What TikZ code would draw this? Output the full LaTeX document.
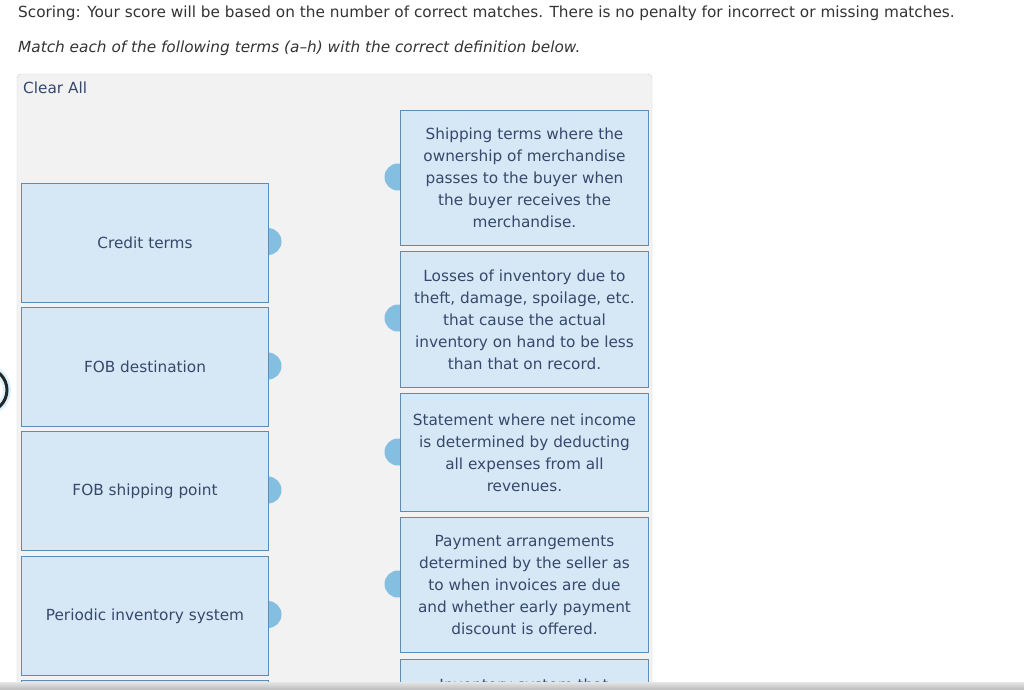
\documentclass[tikz,border=0pt]{standalone}
\usepackage{fontspec}
\setmainfont{DejaVu Sans}
\usepackage{xcolor}
\usetikzlibrary{positioning,calc}
\definecolor{boxfill}{HTML}{D6E8F5}
\definecolor{boxline}{HTML}{5B8DB8}
\definecolor{tabfill}{HTML}{84BEE0}
\definecolor{panelfill}{HTML}{F2F2F2}
\definecolor{panelline}{HTML}{C6CCD6}
\definecolor{ink}{HTML}{34496B}
\definecolor{headink}{HTML}{333333}
\newcommand{\qfont}{\fontsize{15.3}{22}\selectfont}

\begin{document}
\begin{tikzpicture}[x=1pt, y=-1pt,
    term/.style={draw=boxline, fill=boxfill, line width=1pt, anchor=north west,
        minimum width=247pt, inner sep=0pt, text=ink, font=\qfont, align=center},
    defn/.style={term, minimum width=248pt},
    tab/.style={circle, fill=tabfill, minimum size=27pt, inner sep=0pt},
    head/.style={anchor=west, inner sep=0pt, text=headink, font=\qfont}]
    \useasboundingbox (0,0) rectangle (1024,689);
    \clip (0,0) rectangle (1024,689);

    % Heading
    \node[head] (score) at (18,13) {Scoring: Your score will be based on the number of correct matches. There is no penalty for incorrect or missing matches.};
    \node[head, font=\qfont\itshape] (task) at (18,48) {Match each of the following terms (a--h) with the correct definition below.};

    % Panel
    \draw[fill=panelfill, draw=panelline, rounded corners=4pt] (17,74) rectangle (652,720);
    \node[head, text=ink] (clear) at (23,88) {Clear All};

    % Tabs (drawn first, boxes hide half)
    \node[tab] (credittab) at (268,241.5) {};
    \node[tab] (desttab) at (268,366) {};
    \node[tab] (shiptab) at (268,490) {};
    \node[tab] (periodtab) at (268,614.5) {};
    \node[tab] (fobtab) at (398,177) {};
    \node[tab] (shrinktab) at (398,318) {};
    \node[tab] (incometab) at (398,452) {};
    \node[tab] (credtermtab) at (398,584) {};

    % Terms
    \node[term, minimum height=119pt] (credit) at (21,183) {Credit terms};
    \node[term, minimum height=119pt] (dest) at (21,307) {FOB destination};
    \node[term, minimum height=119pt] (ship) at (21,431) {FOB shipping point};
    \node[term, minimum height=119pt] (period) at (21,556) {Periodic inventory system};
    \node[term, minimum height=119pt] (nextterm) at (21,680) {};

    % Definitions
    \node[defn, minimum height=135pt] (fob) at (400,110) {Shipping terms where the\\ownership of merchandise\\passes to the buyer when\\the buyer receives the\\merchandise.};
    \node[defn, minimum height=136pt] (shrink) at (400,251) {Losses of inventory due to\\theft, damage, spoilage, etc.\\that cause the actual\\inventory on hand to be less\\than that on record.};
    \node[defn, minimum height=118pt] (income) at (400,393) {Statement where net income\\is determined by deducting\\all expenses from all\\revenues.};
    \node[defn, minimum height=135pt] (credterm) at (400,517) {Payment arrangements\\determined by the seller as\\to when invoices are due\\and whether early payment\\discount is offered.};
    \node[defn, minimum height=60pt, anchor=north west] (nextdefn) at (400,659) {};
    \node[text=ink, font=\qfont, inner sep=0pt] (nexttext) at (524,686) {Inventory system that};

    % Focus ring at the left edge
    \draw[line width=8pt, cyan!15] (-15,390) circle (22pt);
    \draw[line width=3pt, black!85] (-15,390) circle (22pt);

    % Window edge
    \shade[top color=black!10, bottom color=black!25] (0,682) rectangle (1024,689);
\end{tikzpicture}
\end{document}
